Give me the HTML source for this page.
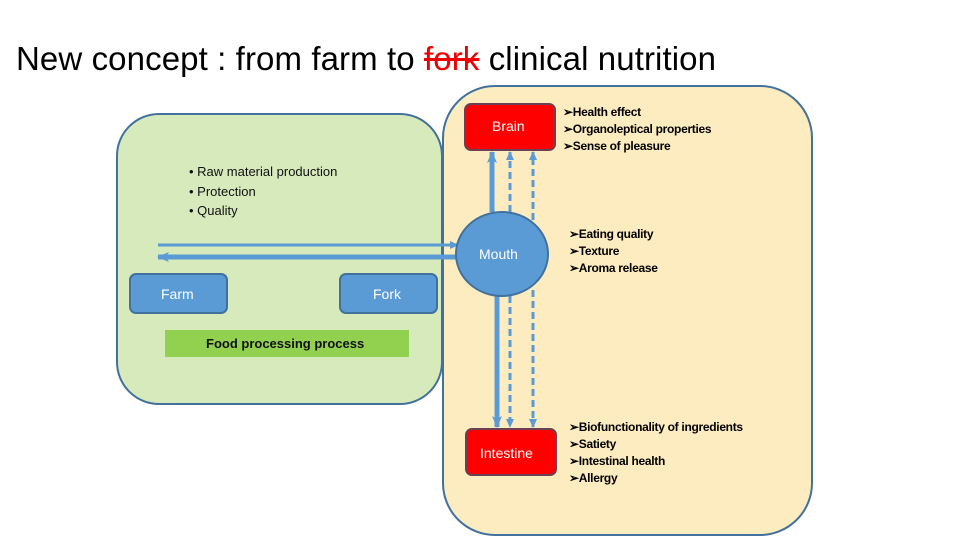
<!DOCTYPE html>
<html><head><meta charset="utf-8"><style>
body{margin:0;width:960px;height:540px;background:#fff;position:relative;overflow:hidden;font-family:"Liberation Sans",sans-serif}
.t{position:absolute;white-space:nowrap}
</style></head><body>
<div class="t" style="left:16px;top:40px;font-size:33px;letter-spacing:0.1px;color:#000">New concept : from farm to <span style="color:#e00;text-decoration:line-through">fork</span> clinical nutrition</div>
<svg width="960" height="540" style="position:absolute;left:0;top:0">
<defs>
<marker id="ah" markerWidth="9" markerHeight="8" refX="8" refY="4" orient="auto" markerUnits="userSpaceOnUse"><path d="M0,0 L9,4 L0,8 Z" fill="#5b9bd5"/></marker>
<marker id="ah2" markerWidth="12" markerHeight="10" refX="11" refY="5" orient="auto" markerUnits="userSpaceOnUse"><path d="M0,0 L12,5 L0,10 L3,5 Z" fill="#5b9bd5"/></marker>
</defs>
<rect x="117" y="114" width="325" height="290" rx="42" fill="#d7eabc" stroke="#41719c" stroke-width="2"/>
<rect x="443" y="86" width="369" height="449" rx="52" fill="#fdecc0" stroke="#41719c" stroke-width="2"/>
<line x1="158" y1="245" x2="458" y2="245" stroke="#5b9bd5" stroke-width="3" marker-end="url(#ah)"/>
<line x1="458" y1="257" x2="158" y2="257" stroke="#5b9bd5" stroke-width="5" marker-end="url(#ah2)"/>
<rect x="130" y="274" width="97" height="39" rx="6" fill="#5b9bd5" stroke="#41719c" stroke-width="2"/>
<rect x="340" y="274" width="97" height="39" rx="6" fill="#5b9bd5" stroke="#41719c" stroke-width="2"/>
<rect x="165" y="330" width="244" height="27" fill="#92d050"/>
<line x1="492" y1="212" x2="492" y2="152" stroke="#5b9bd5" stroke-width="5" marker-end="url(#ah2)"/>
<line x1="510" y1="212" x2="510" y2="152" stroke="#5b9bd5" stroke-width="3" stroke-dasharray="7,4" marker-end="url(#ah)"/>
<line x1="533" y1="220" x2="533" y2="152" stroke="#5b9bd5" stroke-width="3" stroke-dasharray="7,4" marker-end="url(#ah)"/>
<line x1="497" y1="296" x2="497" y2="427" stroke="#5b9bd5" stroke-width="5" marker-end="url(#ah2)"/>
<line x1="510" y1="296" x2="510" y2="427" stroke="#5b9bd5" stroke-width="3" stroke-dasharray="7,4" marker-end="url(#ah)"/>
<line x1="533" y1="290" x2="533" y2="427" stroke="#5b9bd5" stroke-width="3" stroke-dasharray="7,4" marker-end="url(#ah)"/>
<rect x="465" y="104" width="90" height="46" rx="6" fill="#f00" stroke="#6b4050" stroke-width="2"/>
<ellipse cx="502" cy="254" rx="46" ry="42" fill="#5b9bd5" stroke="#41719c" stroke-width="2"/>
<rect x="466" y="429" width="90" height="46" rx="6" fill="#f00" stroke="#6b4050" stroke-width="2"/>
</svg>
<div class="t" style="left:492px;top:118px;font-size:14px;color:#fff">Brain</div>
<div class="t" style="left:479px;top:246px;font-size:14px;color:#fff">Mouth</div>
<div class="t" style="left:480px;top:445px;font-size:14px;color:#fff">Intestine</div>
<div class="t" style="left:161px;top:286px;font-size:14px;color:#fff">Farm</div>
<div class="t" style="left:373px;top:286px;font-size:14px;color:#fff">Fork</div>
<div class="t" style="left:206px;top:336px;font-size:13px;font-weight:bold;color:#111">Food processing process</div>
<div class="t" style="left:189px;top:162px;font-size:13px;line-height:19.5px;color:#111">• Raw material production<br>• Protection<br>• Quality</div>
<div class="t" style="left:563px;top:104px;font-size:12px;line-height:17px;color:#000;font-weight:bold;letter-spacing:-0.3px">➢Health effect<br>➢Organoleptical properties<br>➢Sense of pleasure</div>
<div class="t" style="left:569px;top:226px;font-size:12px;line-height:17px;color:#000;font-weight:bold;letter-spacing:-0.3px">➢Eating quality<br>➢Texture<br>➢Aroma release</div>
<div class="t" style="left:569px;top:419px;font-size:12px;line-height:17px;color:#000;font-weight:bold;letter-spacing:-0.3px">➢Biofunctionality of ingredients<br>➢Satiety<br>➢Intestinal health<br>➢Allergy</div>
</body></html>
